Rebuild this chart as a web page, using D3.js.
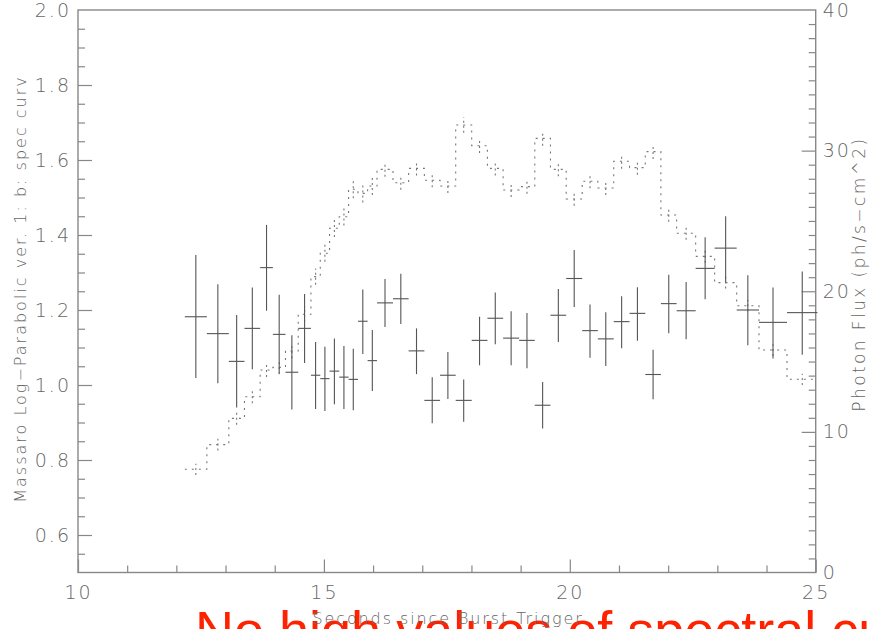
<!DOCTYPE html>
<html><head><meta charset="utf-8">
<script src="https://cdn.jsdelivr.net/npm/d3@7/dist/d3.min.js"></script>
<style>
html,body{margin:0;padding:0;background:#fff;}
svg{display:block;}
.lbl{font-family:"DejaVu Sans",sans-serif;font-weight:200;fill:#666;}
</style></head>
<body><svg id="c" width="872" height="629"></svg>
<script>
// ---- data ----
const binEdges = [12.172,12.620,13.067,13.385,13.704,13.963,14.219,14.478,14.736,14.926,15.115,
  15.312,15.502,15.693,15.889,16.080,16.405,16.723,17.043,17.362,17.680,18.005,18.325,18.644,
  18.970,19.288,19.607,19.927,20.252,20.570,20.893,21.215,21.535,21.852,22.172,22.559,22.945,
  23.393,23.847,24.417,25.036];
const curv = [1.182,1.137,1.063,1.151,1.313,1.135,1.034,1.151,1.026,1.017,1.037,1.021,1.015,1.170,
  1.065,1.219,1.230,1.091,0.959,1.026,0.959,1.119,1.178,1.125,1.119,0.946,1.186,1.284,1.145,1.123,
  1.169,1.191,1.028,1.217,1.198,1.311,1.365,1.200,1.167,1.193];
const curvLo = [1.019,1.005,0.940,1.042,1.198,1.031,0.935,1.059,0.936,0.931,0.949,0.936,0.933,1.083,
  0.984,1.155,1.163,1.029,0.898,0.963,0.902,1.053,1.109,1.053,1.045,0.884,1.115,1.208,1.073,1.051,
  1.098,1.118,0.962,1.138,1.122,1.229,1.275,1.106,1.071,1.081];
const curvHi = [1.347,1.269,1.187,1.260,1.427,1.241,1.133,1.243,1.115,1.102,1.124,1.104,1.097,1.255,
  1.147,1.283,1.297,1.151,1.021,1.088,1.015,1.182,1.247,1.197,1.192,1.008,1.256,1.360,1.215,1.194,
  1.237,1.261,1.094,1.294,1.275,1.394,1.450,1.293,1.260,1.303];
const flux = [7.34,9.09,10.96,12.50,14.40,14.59,15.75,18.36,21.04,22.70,24.48,25.30,27.25,26.96,
  27.48,28.67,27.72,28.74,27.89,27.48,31.82,30.35,28.74,27.20,27.44,30.87,28.67,26.56,27.82,27.34,
  29.24,28.79,29.93,25.42,24.12,22.48,20.61,18.97,15.82,13.74];
const fluxErr = [0.40,0.42,0.45,0.46,0.50,0.50,0.52,0.55,0.58,0.60,0.62,0.62,0.64,0.64,0.64,0.52,
  0.50,0.50,0.50,0.50,0.55,0.52,0.50,0.50,0.50,0.52,0.50,0.48,0.50,0.50,0.52,0.50,0.52,0.48,0.45,
  0.45,0.42,0.40,0.42,0.40];
const xTicks = [10,15,20,25];
const yLTicks = [0.6,0.8,1.0,1.2,1.4,1.6,1.8,2.0];
const yRTicks = [0,10,20,30,40];

// ---- layout ----
const L=78, R=815.7, T=10, B=572.5;
const svg = d3.select("#c");
const x = d3.scaleLinear().domain([10,25]).range([L,R]);
const yL = d3.scaleLinear().domain([0.5,2.0]).range([B,T]);
const yR = d3.scaleLinear().domain([0,40]).range([B,T]);
const axisCol="#888";

// red caption (behind)
svg.append("text").attr("x",195).attr("y",649)
  .attr("font-family","'Liberation Sans',Arial,sans-serif").attr("font-size",54)
  .attr("fill","#ff2200").text("No high values of spectral curvature");

const g = svg.append("g");

// frame
g.append("rect").attr("x",L).attr("y",T).attr("width",R-L).attr("height",B-T)
  .attr("fill","none").attr("stroke",axisCol).attr("stroke-width",1.4);

// bottom axis ticks (inward)
const bxg = g.append("g").attr("transform",`translate(0,${B})`)
  .call(d3.axisTop(x).tickValues(d3.range(10,25.01,1)).tickSize(7).tickFormat(""));
bxg.selectAll(".tick line").attr("y2",d=>xTicks.includes(d)?-13:-7);
g.append("g").attr("transform",`translate(0,${B})`)
  .call(d3.axisBottom(x).tickValues(xTicks).tickSize(0).tickPadding(13).tickFormat(d3.format("d")));
// left axis
const lg = g.append("g").attr("transform",`translate(${L},0)`)
  .call(d3.axisRight(yL).tickValues(d3.range(0.55,2.0,0.05)).tickSize(7).tickFormat(""));
lg.selectAll(".tick line").attr("x2",d=>Math.abs(Math.round(d*10)-d*10)<1e-6 && Math.round(d*10)%2===0?14:7);
g.append("g").attr("transform",`translate(${L},0)`)
  .call(d3.axisLeft(yL).tickValues(yLTicks).tickSize(0).tickPadding(7).tickFormat(d3.format(".1f")));
// right axis
const rg = g.append("g").attr("transform",`translate(${R},0)`)
  .call(d3.axisLeft(yR).tickValues(d3.range(1,40,1)).tickSize(7).tickFormat(""));
rg.selectAll(".tick line").attr("x2",d=>d%10===0?-14:-7);
g.append("g").attr("transform",`translate(${R},0)`)
  .call(d3.axisRight(yR).tickValues(yRTicks).tickSize(0).tickPadding(7).tickFormat(d3.format("d")));

g.selectAll(".domain").remove();
g.selectAll(".tick line").attr("stroke",axisCol).attr("stroke-width",1.2);
g.selectAll(".tick text").attr("class","lbl").attr("font-size",19).attr("letter-spacing",2)
  .style("font-family","'DejaVu Sans',sans-serif").style("font-weight",200).attr("fill","#666");

// axis titles
svg.append("text").attr("class","lbl").attr("x",448).attr("y",624).attr("text-anchor","middle")
  .attr("font-size",16).attr("letter-spacing",1.9).text("Seconds since Burst Trigger");
svg.append("text").attr("class","lbl").attr("transform","translate(26,289) rotate(-90)")
  .attr("text-anchor","middle").attr("font-size",16).attr("letter-spacing",2)
  .text("Massaro Log\u2212Parabolic ver. 1: b: spec curv");
svg.append("text").attr("class","lbl").attr("transform","translate(865,274) rotate(-90)")
  .attr("text-anchor","middle").attr("font-size",17).attr("letter-spacing",2.4)
  .text("Photon Flux (ph/s\u2212cm^2)");

// flux dotted step line
const stepPts = flux.map((f,i)=>[binEdges[i],f]);
stepPts.push([binEdges[binEdges.length-1],flux[flux.length-1]]);
const plot = svg.append("g");
plot.append("path").datum(stepPts)
  .attr("d",d3.line().x(d=>x(d[0])).y(d=>yR(d[1])).curve(d3.curveStepAfter))
  .attr("fill","none").attr("stroke","#777").attr("stroke-width",1.1).attr("stroke-dasharray","2,5");
plot.selectAll("line.fe").data(flux).join("line").attr("class","fe")
  .attr("x1",(d,i)=>x((binEdges[i]+binEdges[i+1])/2)).attr("x2",(d,i)=>x((binEdges[i]+binEdges[i+1])/2))
  .attr("y1",(d,i)=>yR(d-fluxErr[i])).attr("y2",(d,i)=>yR(d+fluxErr[i]))
  .attr("stroke","#777").attr("stroke-width",1.1).attr("stroke-dasharray","2,3");

// curvature crosses
const cr = plot.selectAll("g.cr").data(curv).join("g").attr("class","cr");
cr.append("line").attr("x1",(d,i)=>x(binEdges[i])).attr("x2",(d,i)=>x(binEdges[i+1]))
  .attr("y1",d=>yL(d)).attr("y2",d=>yL(d)).attr("stroke","#555").attr("stroke-width",1.1);
cr.append("line").attr("x1",(d,i)=>x((binEdges[i]+binEdges[i+1])/2)).attr("x2",(d,i)=>x((binEdges[i]+binEdges[i+1])/2))
  .attr("y1",(d,i)=>yL(curvLo[i])).attr("y2",(d,i)=>yL(curvHi[i])).attr("stroke","#555").attr("stroke-width",1.1);
</script></body></html>
